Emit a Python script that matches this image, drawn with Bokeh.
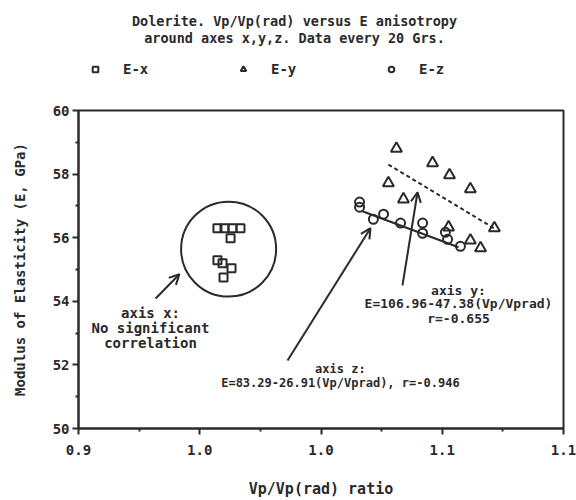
from bokeh.plotting import figure
from bokeh.layouts import column
from bokeh.models import (Label, Arrow, OpenHead, FixedTicker, Legend, LegendItem,
                          Range1d)
from bokeh.embed import file_html
from bokeh.resources import INLINE

# ---- data ----
sq_x = [0.9573, 0.9602, 0.9635, 0.9668, 0.9627, 0.9573, 0.9594, 0.9631, 0.9598]
sq_y = [56.30, 56.30, 56.30, 56.30, 55.98, 55.29, 55.20, 55.04, 54.75]

tri_x = [1.0311, 1.0460, 1.0530, 1.0278, 1.0616, 1.0340, 1.0715, 1.0526, 1.0616, 1.0658]
tri_y = [58.80, 58.35, 57.97, 57.72, 57.53, 57.21, 56.30, 56.33, 55.92, 55.67]

cir_x = [1.0159, 1.0159, 1.0216, 1.0258, 1.0328, 1.0419, 1.0419, 1.0513, 1.0522, 1.0575]
cir_y = [57.12, 56.96, 56.58, 56.74, 56.46, 56.46, 56.14, 56.17, 55.95, 55.73]

fit_z_x = [1.0171, 1.0567]
fit_z_y = [56.83, 55.70]
fit_y_x = [1.0278, 1.0715]
fit_y_y = [58.30, 56.29]

group_x_center = [0.9619]
group_x_center_y = [55.64]

# arrows: start (x, y) -> tip (x, y)
arrow_x_start = [0.9318, 0.9862, 1.0336]
arrow_y_start = [54.09, 52.14, 54.50]
arrow_x_end = [0.9416, 1.0204, 1.0398]
arrow_y_end = [54.85, 56.30, 57.43]

x_ticks = [0.9, 0.95, 1.0, 1.05, 1.1]
x_tick_labels = ["0.9", "1.0", "1.0", "1.1", "1.1"]
x_minor = [0.925, 0.975, 1.025, 1.075]
y_ticks = [50, 52, 54, 56, 58, 60]
y_minor = [51, 53, 55, 57, 59]

title_lines = ["Dolerite. Vp/Vp(rad) versus E anisotropy",
               "around axes x,y,z. Data every 20 Grs."]
legend_labels = ["E-x", "E-y", "E-z"]

FONT = "DejaVu Sans Mono"
INK = "#2a2a2a"
HEADER_H = 90
FRAME_L, FRAME_R = 78, 563

# ---------------- main plot ----------------
p = figure(width=576, height=500 - HEADER_H, output_backend="svg",
           toolbar_location=None, title=None,
           x_range=Range1d(0.9, 1.1), y_range=Range1d(50, 60),
           min_border_left=FRAME_L, min_border_right=576 - FRAME_R,
           min_border_top=110 - HEADER_H, min_border_bottom=72)
p.background_fill_color = "white"
p.border_fill_color = "white"
p.grid.visible = False
p.outline_line_color = INK
p.outline_line_width = 2

for ax in (p.xaxis[0], p.yaxis[0]):
    ax.axis_line_color = INK
    ax.axis_line_width = 2
    ax.major_tick_line_color = INK
    ax.major_tick_line_width = 2
    ax.minor_tick_line_color = INK
    ax.minor_tick_line_width = 2
    ax.major_tick_out = 6
    ax.major_tick_in = 0
    ax.minor_tick_out = 3
    ax.minor_tick_in = 0
    ax.major_label_text_font = FONT
    ax.major_label_text_font_style = "bold"
    ax.major_label_text_font_size = "14px"
    ax.major_label_text_color = INK
    ax.axis_label_text_font = FONT
    ax.axis_label_text_font_style = "bold"
    ax.axis_label_text_color = INK

p.xaxis.ticker = FixedTicker(ticks=x_ticks, minor_ticks=x_minor)
p.xaxis.major_label_overrides = dict(zip(x_ticks, x_tick_labels))
p.xaxis.axis_label = "Vp/Vp(rad) ratio"
p.xaxis.axis_label_text_font_size = "15px"
p.xaxis.major_label_standoff = 10
p.xaxis.axis_label_standoff = 22

p.yaxis.ticker = FixedTicker(ticks=y_ticks, minor_ticks=y_minor)
p.yaxis.axis_label = "Modulus of Elasticity (E, GPa)"
p.yaxis.axis_label_text_font_size = "14px"
p.yaxis.major_label_standoff = 3
p.yaxis.axis_label_standoff = 22

marker_styles = [dict(marker="square", size=8),
                 dict(marker="triangle", size=11),
                 dict(marker="circle", size=9)]

for xs, ys, st in zip([sq_x, tri_x, cir_x], [sq_y, tri_y, cir_y], marker_styles):
    p.scatter(xs, ys, fill_alpha=0, line_color=INK, line_width=2, **st)

p.line(fit_z_x, fit_z_y, line_color=INK, line_width=2)
p.line(fit_y_x, fit_y_y, line_color=INK, line_width=2, line_dash="4 3")
p.scatter(group_x_center, group_x_center_y, marker="circle", size=95,
          fill_alpha=0, line_color=INK, line_width=2)

for xs, ys, xe, ye in zip(arrow_x_start, arrow_y_start, arrow_x_end, arrow_y_end):
    p.add_layout(Arrow(x_start=xs, y_start=ys, x_end=xe, y_end=ye,
                       line_color=INK, line_width=2,
                       end=OpenHead(size=10, line_color=INK, line_width=2)))

def lab(fig, x, y, text, size):
    fig.add_layout(Label(x=x, y=y, text=text, text_align="center",
                         text_baseline="middle", text_font=FONT,
                         text_font_style="bold", text_font_size=size,
                         text_color=INK))

lab(p, 0.9297, 53.62, "axis x:", "14px")
lab(p, 0.9297, 53.15, "No significant", "14px")
lab(p, 0.9297, 52.68, "correlation", "14px")

lab(p, 1.0567, 54.35, "axis y:", "13px")
lab(p, 1.0567, 53.94, "E=106.96-47.38(Vp/Vprad)", "13px")
lab(p, 1.0567, 53.46, "r=-0.655", "13px")

lab(p, 1.008, 51.86, "axis z:", "12px")
lab(p, 1.008, 51.42, "E=83.29-26.91(Vp/Vprad), r=-0.946", "12px")

# ---------------- header (title + legend) ----------------
# the column aligns the frames, so the header frame spans FRAME_L..FRAME_R
h = figure(width=576, height=HEADER_H, output_backend="svg", toolbar_location=None,
           title=None, x_range=Range1d(FRAME_L, FRAME_R), y_range=Range1d(HEADER_H, 0),
           x_axis_location=None, y_axis_location=None,
           min_border_left=FRAME_L, min_border_right=576 - FRAME_R,
           min_border_top=0, min_border_bottom=0)
h.grid.visible = False
h.outline_line_color = None
h.background_fill_color = "white"
h.border_fill_color = "white"

lab(h, 294, 20, title_lines[0], "13.5px")
lab(h, 294, 37, title_lines[1], "13.5px")

nan = float("nan")
keys = [h.scatter([nan], [nan], fill_alpha=0, line_color=INK, line_width=2, **st)
        for st in marker_styles]
legend = Legend(items=[LegendItem(label=l, renderers=[r])
                       for l, r in zip(legend_labels, keys)],
                location=(88 - FRAME_L, HEADER_H - 77), orientation="horizontal",
                padding=0, margin=0, spacing=0, glyph_width=14, glyph_height=14,
                label_standoff=21, label_width=113,
                label_text_font=FONT, label_text_font_style="bold",
                label_text_font_size="14px", label_text_color=INK,
                border_line_alpha=0, background_fill_alpha=0)
h.add_layout(legend)

layout = column(h, p, spacing=0)
open("out.html", "w").write(file_html(layout, INLINE))
